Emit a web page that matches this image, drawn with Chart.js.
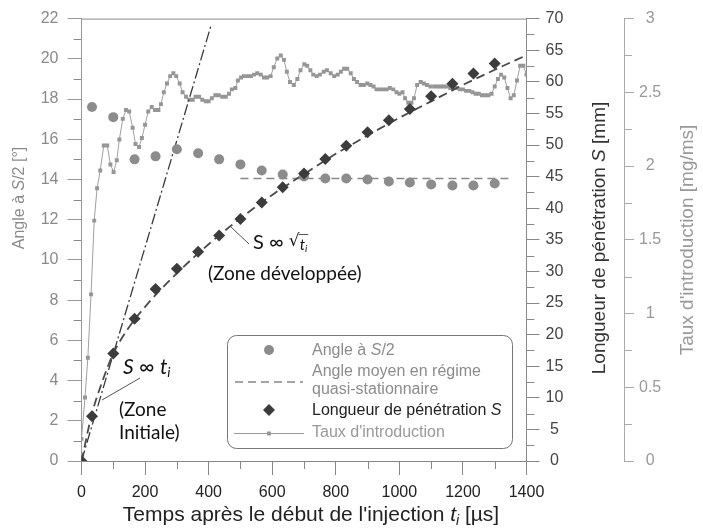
<!DOCTYPE html>
<html>
<head>
<meta charset="utf-8">
<script src="https://cdn.jsdelivr.net/npm/chart.js@4.4.1/dist/chart.umd.min.js"></script>
<style>
  html, body { margin: 0; padding: 0; background: #fff; }
  #wrap { width: 703px; height: 528px; }
</style>
</head>
<body>
<div id="wrap"><canvas id="chart" width="703" height="528"></canvas></div>
<script>
// --- Data ---
const xTicks = [0, 200, 400, 600, 800, 1000, 1200, 1400];
const angleTicks = [0, 2, 4, 6, 8, 10, 12, 14, 16, 18, 20, 22];
const penTicks = [0, 5, 10, 15, 20, 25, 30, 35, 40, 45, 50, 55, 60, 65, 70];
const rateTicks = [0, 0.5, 1, 1.5, 2, 2.5, 3];

// Angle a S/2 [deg]
const angleT = [33, 100, 167, 233, 300, 367, 433, 500, 567, 633, 700, 767, 833, 900, 967, 1033, 1100, 1167, 1233, 1300];
const angleDeg = [17.6, 17.1, 15.0, 15.15, 15.5, 15.3, 15.0, 14.75, 14.45, 14.25, 14.15, 14.05, 14.05, 14.0, 13.9, 13.85, 13.75, 13.7, 13.7, 13.8];

// Angle moyen en regime quasi-stationnaire
const meanT = [500, 1350];
const meanDeg = [14.05, 14.05];

// Longueur de penetration S [mm]
const penT = [0, 33, 100, 167, 233, 300, 367, 433, 500, 567, 633, 700, 767, 833, 900, 967, 1033, 1100, 1167, 1233, 1300];
const penMm = [0, 7.1, 17.0, 22.5, 27.2, 30.4, 33.1, 35.7, 38.3, 40.9, 43.3, 45.5, 47.8, 49.9, 52.0, 53.9, 55.7, 57.7, 59.7, 61.3, 62.9];

// S ~ sqrt(t) dashed curve, S ~ t dash-dot line
const fitT = [0, 33, 67, 100, 150, 200, 300, 400, 500, 600, 700, 800, 900, 1000, 1100, 1200, 1300, 1400];
const fitMm = [0, 7.5, 12.8, 17.0, 21.2, 24.4, 29.7, 34.3, 38.4, 42.1, 45.4, 48.6, 51.5, 54.3, 56.9, 59.5, 61.9, 64.2];
const linT = [0, 408];
const linMm = [0, 69];

// Taux d'introduction [mg/ms]
const rateT = [0, 11, 20, 30, 40, 49, 59, 70, 81, 91, 101, 111, 119, 130, 140, 150, 161, 170, 181, 190,
  200, 210, 221, 231, 242, 250, 259, 269, 279, 289, 298, 309, 318, 329, 339, 350, 359, 370, 380, 391,
  400, 410, 421, 432, 443, 454, 464, 473, 484, 492, 502, 511, 523, 533, 543, 553, 564, 574, 584, 595,
  605, 616, 627, 637, 646, 656, 668, 679, 689, 701, 710, 720, 729, 740, 750, 762, 772, 784, 795, 806,
  816, 826, 836, 847, 857, 867, 878, 888, 899, 909, 919, 928, 939, 949, 960, 970, 981, 991, 1000, 1010,
  1018, 1028, 1038, 1046, 1056, 1067, 1077, 1087, 1098, 1110, 1120, 1130, 1140, 1150, 1160, 1170, 1180, 1190, 1200,
  1210, 1220, 1230, 1240, 1250, 1260, 1270, 1280, 1290, 1300, 1310, 1320, 1330, 1340, 1350, 1360, 1370, 1380, 1390, 1400];
const rateVal = [0.15, 0.43, 0.70, 1.13, 1.63, 1.85, 1.97, 2.14, 2.14, 2.01, 1.96, 2.04, 2.18, 2.32, 2.38, 2.37, 2.26, 2.15, 2.13, 2.19,
  2.28, 2.37, 2.40, 2.38, 2.38, 2.42, 2.50, 2.56, 2.61, 2.63, 2.61, 2.56, 2.50, 2.47, 2.45, 2.45, 2.47, 2.47, 2.45, 2.44,
  2.44, 2.46, 2.48, 2.48, 2.47, 2.47, 2.49, 2.52, 2.53, 2.58, 2.60, 2.61, 2.61, 2.61, 2.62, 2.63, 2.62, 2.60, 2.60, 2.61,
  2.67, 2.73, 2.75, 2.72, 2.64, 2.57, 2.55, 2.59, 2.65, 2.69, 2.68, 2.65, 2.62, 2.61, 2.62, 2.64, 2.65, 2.63, 2.61, 2.62,
  2.64, 2.66, 2.66, 2.63, 2.59, 2.57, 2.55, 2.55, 2.56, 2.55, 2.54, 2.52, 2.52, 2.52, 2.52, 2.53, 2.52, 2.50, 2.49, 2.50,
  2.46, 2.43, 2.43, 2.46, 2.55, 2.57, 2.56, 2.55, 2.54, 2.54, 2.54, 2.54, 2.54, 2.54, 2.53, 2.53, 2.53, 2.52, 2.52,
  2.51, 2.51, 2.50, 2.49, 2.49, 2.48, 2.48, 2.48, 2.49, 2.54, 2.59, 2.62, 2.60, 2.53, 2.46, 2.48, 2.58, 2.68, 2.68, 2.62];

// --- Helpers ---
const SANS = '"Liberation Sans", Arial, sans-serif';
const NOTE = 'Lato, "Open Sans", sans-serif';

function pts(xs, ys) {
    return xs.map((x, i) => ({ x: x, y: ys[i] }));
}

function fixTicks(list) {
    return function (scale) {
        scale.ticks = list.map(v => ({ value: v }));
    };
}

// runs: [text, italic, sub]
function runFont(r, size, family) {
    const s = r[2] ? Math.round(size * 0.65) : size;
    return (r[1] ? 'italic ' : '') + s + 'px ' + family;
}

function runsWidth(ctx, runs, size, family) {
    let w = 0;
    runs.forEach(r => { ctx.font = runFont(r, size, family); w += ctx.measureText(r[0]).width; });
    return w;
}

function drawRuns(ctx, runs, x, y, size, family, color, align) {
    ctx.fillStyle = color;
    ctx.textBaseline = 'middle';
    ctx.textAlign = 'left';
    let cx = align === 'center' ? x - runsWidth(ctx, runs, size, family) / 2 : x;
    runs.forEach(r => {
        ctx.font = runFont(r, size, family);
        ctx.fillText(r[0], cx, r[2] ? y + size * 0.28 : y);
        cx += ctx.measureText(r[0]).width;
    });
    return cx;
}

function drawVertical(ctx, runs, x, y, size, color) {
    ctx.save();
    ctx.translate(x, y);
    ctx.rotate(-Math.PI / 2);
    drawRuns(ctx, runs, 0, 0, size, SANS, color, 'center');
    ctx.restore();
}

// --- Decorations: frame, minor ticks, titles, legend, notes ---
const decorations = {
    id: 'decorations',
    beforeDraw(chart) {
        const ctx = chart.ctx;
        ctx.save();
        ctx.fillStyle = '#fff';
        ctx.fillRect(0, 0, chart.width, chart.height);
        ctx.restore();
    },
    afterDraw(chart) {
        const ctx = chart.ctx;
        const a = chart.chartArea;
        const sx = chart.scales.x, sy = chart.scales.y, ss = chart.scales.yS, sr = chart.scales.yR;
        ctx.save();

        // top frame line
        ctx.strokeStyle = '#8a8a8a';
        ctx.lineWidth = 1;
        ctx.beginPath();
        ctx.moveTo(a.left, a.top + 0.5);
        ctx.lineTo(a.right, a.top + 0.5);
        ctx.stroke();

        // minor ticks
        ctx.beginPath();
        for (let v = 100; v < 1400; v += 200) {
            const px = Math.round(sx.getPixelForValue(v)) + 0.5;
            ctx.moveTo(px, a.bottom); ctx.lineTo(px, a.bottom + 8);
        }
        for (let v = 1; v < 22; v += 2) {
            const py = Math.round(sy.getPixelForValue(v)) + 0.5;
            ctx.moveTo(a.left - 8, py); ctx.lineTo(a.left, py);
        }
        for (let v = 2.5; v < 70; v += 5) {
            const py = Math.round(ss.getPixelForValue(v)) + 0.5;
            ctx.moveTo(ss.left, py); ctx.lineTo(ss.left + 8, py);
        }
        ctx.stroke();
        ctx.strokeStyle = '#aaa';
        ctx.beginPath();
        for (let v = 0.25; v < 3; v += 0.5) {
            const py = Math.round(sr.getPixelForValue(v)) + 0.5;
            ctx.moveTo(sr.left, py); ctx.lineTo(sr.left + 8, py);
        }
        ctx.stroke();

        // axis titles
        drawVertical(ctx, [['Angle à '], ['S', true], ['/2 [°]']], 20, 198, 16, '#8a8a8a');
        drawVertical(ctx, [['Longueur de pénétration '], ['S', true], [' [mm]']], 600, 238, 19, '#333');
        drawVertical(ctx, [['Taux d\'introduction [mg/ms]']], 688, 240, 19, '#999');
        drawRuns(ctx, [['Temps après le début de l\'injection '], ['t', true], ['i', true, true], [' [µs]']],
            311, 515, 21, SANS, '#222', 'center');

        // legend box
        ctx.fillStyle = '#fff';
        ctx.strokeStyle = '#777';
        ctx.lineWidth = 1;
        ctx.beginPath();
        ctx.roundRect(227.5, 335.5, 285, 113, 9);
        ctx.fill();
        ctx.stroke();

        ctx.fillStyle = '#8c8c8c';
        ctx.beginPath();
        ctx.arc(269, 350, 5, 0, Math.PI * 2);
        ctx.fill();
        drawRuns(ctx, [['Angle à '], ['S', true], ['/2']], 312, 351, 16, SANS, '#8c8c8c');

        ctx.strokeStyle = '#888';
        ctx.lineWidth = 1.5;
        ctx.setLineDash([8, 5]);
        ctx.beginPath();
        ctx.moveTo(235, 382); ctx.lineTo(303, 382);
        ctx.stroke();
        ctx.setLineDash([]);
        drawRuns(ctx, [['Angle moyen en régime']], 312, 372, 16, SANS, '#8c8c8c');
        drawRuns(ctx, [['quasi-stationnaire']], 312, 390, 16, SANS, '#8c8c8c');

        ctx.fillStyle = '#3c3c3c';
        ctx.beginPath();
        ctx.moveTo(269, 404); ctx.lineTo(275, 410); ctx.lineTo(269, 416); ctx.lineTo(263, 410);
        ctx.closePath();
        ctx.fill();
        drawRuns(ctx, [['Longueur de pénétration '], ['S', true]], 312, 411, 16, SANS, '#222');

        ctx.strokeStyle = '#999';
        ctx.lineWidth = 1;
        ctx.beginPath();
        ctx.moveTo(234, 433.5); ctx.lineTo(304, 433.5);
        ctx.stroke();
        ctx.fillStyle = '#999';
        ctx.fillRect(267, 431.5, 4, 4);
        drawRuns(ctx, [['Taux d\'introduction']], 312, 433, 16, SANS, '#999');

        // notes
        ctx.strokeStyle = '#555';
        ctx.lineWidth = 1;
        ctx.beginPath();
        ctx.moveTo(231, 227); ctx.lineTo(249, 244);
        ctx.moveTo(140, 378); ctx.lineTo(102, 400);
        ctx.stroke();

        let ex = drawRuns(ctx, [['S ∞ ']], 253, 243, 20, NOTE, '#111');
        ctx.font = '17px "DejaVu Sans", sans-serif';
        ctx.fillText('√', ex, 242);
        const rx = ex + ctx.measureText('√').width - 1;
        const end = drawRuns(ctx, [['t', true], ['i', true, true]], rx + 1, 245, 15, NOTE, '#111');
        ctx.beginPath();
        ctx.moveTo(rx, 234.5); ctx.lineTo(end + 1, 234.5);
        ctx.stroke();
        drawRuns(ctx, [['(Zone développée)']], 208, 274, 19, NOTE, '#111');

        drawRuns(ctx, [['S', true], [' ∞ '], ['t', true], ['i', true, true]], 123, 367, 21, NOTE, '#111');
        drawRuns(ctx, [['(Zone']], 119, 410, 19, NOTE, '#111');
        drawRuns(ctx, [['Initiale)']], 119, 433, 19, NOTE, '#111');

        ctx.restore();
    }
};

// --- Chart ---
const tickFont = { family: SANS, size: 16 };

new Chart(document.getElementById('chart'), {
    type: 'scatter',
    data: {
        datasets: [
            {
                label: 'Longueur de pénétration S',
                data: pts(penT, penMm),
                yAxisID: 'yS',
                pointStyle: 'rectRot',
                pointRadius: 6,
                backgroundColor: '#3c3c3c',
                borderColor: '#3c3c3c',
                borderWidth: 0
            },
            {
                label: 'Angle à S/2',
                data: pts(angleT, angleDeg),
                yAxisID: 'y',
                pointStyle: 'circle',
                pointRadius: 5,
                backgroundColor: '#8c8c8c',
                borderWidth: 0
            },
            {
                label: 'S ~ sqrt(t)',
                data: pts(fitT, fitMm),
                yAxisID: 'yS',
                showLine: true,
                pointRadius: 0,
                borderColor: '#4a4a4a',
                borderWidth: 1.8,
                borderDash: [9, 5],
                cubicInterpolationMode: 'monotone'
            },
            {
                label: 'S ~ t',
                data: pts(linT, linMm),
                yAxisID: 'yS',
                showLine: true,
                pointRadius: 0,
                borderColor: '#3a3a3a',
                borderWidth: 1.3,
                borderDash: [11, 3, 2, 3]
            },
            {
                label: 'Angle moyen en régime quasi-stationnaire',
                data: pts(meanT, meanDeg),
                yAxisID: 'y',
                showLine: true,
                pointRadius: 0,
                borderColor: '#888',
                borderWidth: 1.5,
                borderDash: [8, 5]
            },
            {
                label: 'Taux d\'introduction',
                data: pts(rateT, rateVal),
                yAxisID: 'yR',
                showLine: true,
                pointStyle: 'rect',
                pointRadius: 2.8,
                backgroundColor: '#969696',
                borderColor: '#a0a0a0',
                borderWidth: 1,
                pointBorderWidth: 0
            }
        ]
    },
    options: {
        responsive: false,
        animation: false,
        devicePixelRatio: 1,
        layout: { padding: { top: 15, left: 0, right: 0, bottom: 0 } },
        plugins: {
            legend: { display: false },
            tooltip: { enabled: false }
        },
        scales: {
            x: {
                type: 'linear',
                position: 'bottom',
                min: 0,
                max: 1400,
                afterBuildTicks: fixTicks(xTicks),
                afterFit: s => { s.height = 67; },
                grid: { drawOnChartArea: false, tickLength: 14, color: '#888' },
                border: { color: '#888' },
                ticks: { padding: 8, color: '#222', font: tickFont, maxRotation: 0, autoSkip: false, callback: v => String(v) }
            },
            y: {
                position: 'left',
                min: 0,
                max: 22,
                afterBuildTicks: fixTicks(angleTicks),
                afterFit: s => { s.width = 81.5; },
                grid: { drawOnChartArea: false, tickLength: 14, color: '#999' },
                border: { color: '#999' },
                ticks: { padding: 9, color: '#8a8a8a', font: tickFont, autoSkip: false, callback: v => String(v) }
            },
            yS: {
                position: 'right',
                weight: 0,
                min: 0,
                max: 70,
                afterBuildTicks: fixTicks(penTicks),
                afterFit: s => { s.width = 97.5; },
                grid: { drawOnChartArea: false, tickLength: 13, color: '#888' },
                border: { color: '#888' },
                ticks: { padding: 6, crossAlign: 'center', color: '#444', font: tickFont, autoSkip: false, callback: v => String(v) }
            },
            yR: {
                position: 'right',
                weight: 1,
                min: 0,
                max: 3,
                afterBuildTicks: fixTicks(rateTicks),
                afterFit: s => { s.width = 79; },
                grid: { drawOnChartArea: false, tickLength: 10, color: '#aaa' },
                border: { color: '#aaa' },
                ticks: { padding: 5, crossAlign: 'center', color: '#999', font: tickFont, autoSkip: false, callback: v => String(v) }
            }
        }
    },
    plugins: [decorations]
});
</script>
</body>
</html>
